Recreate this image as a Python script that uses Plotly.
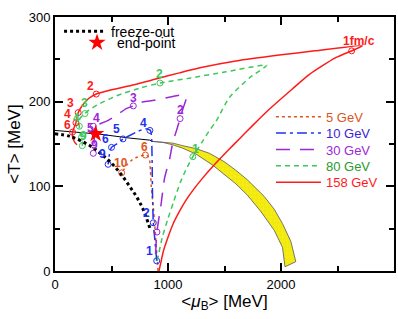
import plotly.graph_objects as go

# ---------------- data ----------------
fo_mu = [0, 133, 310, 400, 487, 575, 650, 720, 779, 841]
fo_T = [162, 159, 148, 139, 129, 116, 102, 88, 73, 50]

co_mu = [0, 200, 397, 661, 838, 867]
co_T = [166, 164, 161.6, 157, 154.6, 153]

band_mu = [867, 1043, 1131, 1249, 1367, 1499, 1600, 1700, 1852, 1940, 2013, 2087, 2131,
           2035, 2013, 1940, 1823, 1700, 1600, 1499, 1396, 1249, 1131, 1043, 950, 867]
band_T = [153, 151, 148, 144.5, 139, 129, 119, 108, 88, 73, 56, 35, 11,
          5, 28, 48, 70, 90, 103, 114, 125, 138, 145, 149, 152, 153]

ep_mu = [360]
ep_T = [162]

# 158 GeV
r_mu = [920, 940, 960, 1000, 1043, 1100, 1161, 1230, 1308, 1400, 1528, 1631, 1750, 1896, 2100,
        2249, 2484, 2720, 2300, 1984, 1600, 1283, 1100, 900, 700, 500, 365, 300, 245, 205, 185,
        165, 155, 158, 175, 195]
r_T = [0, 12, 24, 40, 55, 70, 84, 97, 110, 124, 142, 156, 172, 191, 215,
       232, 252, 266, 260, 255, 248, 240, 234, 227, 220, 214, 209, 204, 196, 187, 175,
       168, 164, 157, 152, 149]
r_mk_mu = [2625, 365, 205, 185, 155]
r_mk_T = [260, 209, 187, 175, 164]
r_lab = ["1fm/c", "2", "3", "4", "6"]
r_lab_mu = [2690, 310, 133, 112, 112]
r_lab_T = [272, 219, 198, 186, 173]

# 80 GeV
g_mu = [905, 950, 1000, 1050, 1110, 1160, 1220, 1300, 1367, 1426, 1543, 1720, 1873,
        1500, 1200, 929, 750, 546, 400, 300, 265, 225, 210, 215, 220, 235, 242, 242]
g_T = [12, 40, 62, 82, 105, 120, 135, 152, 166, 177, 205, 228, 243,
       235, 228, 222, 216, 207, 198, 190, 186, 181, 176, 171, 164, 158, 152, 148]
g_mk_mu = [1220, 929, 265, 215, 235, 242]
g_mk_T = [135, 222, 186, 171, 158, 148]
g_lab = ["1", "2", "3", "4", "9"]
g_lab_mu = [1240, 929, 265, 192, 250]
g_lab_T = [144, 233, 198, 181, 160]

# 30 GeV
p_mu = [890, 902, 940, 970, 1014, 1043, 1080, 1107, 1135, 1160, 1150, 1100, 1000, 850, 752,
        693, 634, 545, 457, 400, 339, 345, 348, 345, 339]
p_T = [20, 46, 80, 110, 132, 152, 168, 180, 193, 203, 207, 207.5, 205, 201, 199,
       195, 192, 184, 177, 174, 171, 165, 160, 150, 139]
p_mk_mu = [902, 1107, 693, 339, 348, 339]
p_mk_T = [46, 180, 195, 171, 163, 139]
p_lab = ["2", "3", "4", "5", "9"]
p_lab_mu = [1111, 693, 369, 310, 348]
p_lab_T = [190, 204, 181, 169, 149]

# 10 GeV
b_mu = [900, 885, 870, 863, 860, 855, 845, 800, 735, 661, 602, 545, 500, 482, 470]
b_T = [12, 35, 57, 90, 125, 155, 166, 168, 165, 160, 156, 150, 146, 138, 126]
b_mk_mu = [900, 870, 840, 602, 500, 470]
b_mk_T = [12, 57, 166, 156, 146, 126]
b_lab = ["1", "2", "4", "5", "6", "9"]
b_lab_mu = [838, 809, 779, 544, 450, 420]
b_lab_T = [24, 69, 175, 167.5, 156, 138]

# 5 GeV
o_mu = [912, 898, 885, 870, 852, 845, 838, 820, 800, 760, 720, 680, 640, 610, 590, 575]
o_T = [0, 25, 50, 75, 100, 118, 130, 136, 137, 136, 134, 131, 126, 120, 116, 112]
o_mk_mu = [800, 590]
o_mk_T = [137, 116]
o_lab = ["6", "10"]
o_lab_mu = [794, 588]
o_lab_T = [147, 127]

x_ticks = [0, 1000, 2000]
y_ticks = [0, 100, 200, 300]

# ---------------- styles ----------------
FONT = "Liberation Sans, Arial, Helvetica, sans-serif"
C_R = "#ff1a1a"
C_G = "#3cc85a"
C_P = "#9b27d8"
C_B = "#1e32f0"
C_O = "#e0561e"

fig = go.Figure()

# yellow band
fig.add_trace(go.Scatter(
    x=band_mu, y=band_T, mode="lines", fill="toself",
    fillcolor="#f6ee10",
    fillpattern=dict(shape="+", bgcolor="#f6ee10", fgcolor="#c9bf20", size=4, solidity=0.15),
    line=dict(color="#555555", width=0.8), showlegend=False, hoverinfo="skip"))

# crossover line
fig.add_trace(go.Scatter(x=co_mu, y=co_T, mode="lines", line=dict(color="black", width=1),
                         showlegend=False, hoverinfo="skip"))

# (name, x, y, marker x, marker y, line colour, text colour, line style, legend id, legend y)
series = [
    ("5 GeV", o_mu, o_T, o_mk_mu, o_mk_T, C_O, "#d9541e", dict(dash="dot", width=1.5), "legend3", 0.6075),
    ("10 GeV", b_mu, b_T, b_mk_mu, b_mk_T, C_B, "#3a1fd6", dict(dash="10px,4px,3px,4px", width=1.5), "legend4", 0.5429),
    ("30 GeV", p_mu, p_T, p_mk_mu, p_mk_T, C_P, "#9b27d8", dict(dash="14px,10px", width=1.5), "legend5", 0.4783),
    ("80 GeV", g_mu, g_T, g_mk_mu, g_mk_T, C_G, "#2a9a2a", dict(dash="5px,4px", width=1.5), "legend6", 0.4138),
    ("158 GeV", r_mu, r_T, r_mk_mu, r_mk_T, C_R, "#ff1a1a", dict(width=1.5), "legend7", 0.3492),
]
legend_layouts = {}
for name, xm, ym, mx, my, col, tcol, ln, lg, ly in series:
    fig.add_trace(go.Scatter(
        x=xm, y=ym, mode="lines", line=dict(color=col, shape="spline", smoothing=0.6, **ln),
        name=name, legend=lg))
    fig.add_trace(go.Scatter(
        x=mx, y=my, mode="markers",
        marker=dict(symbol="circle-open", size=6, color=col, line=dict(width=1, color=col)),
        showlegend=False, hoverinfo="skip"))
    legend_layouts[lg] = dict(x=0.637, y=ly, xanchor="left", yanchor="middle",
                              bgcolor="rgba(0,0,0,0)", itemwidth=45,
                              font=dict(size=13, family=FONT, color=tcol))

# freeze-out
fig.add_trace(go.Scatter(x=fo_mu, y=fo_T, mode="lines",
                         line=dict(color="black", dash="dot", width=3, shape="spline"),
                         name="freeze-out", legend="legend"))
# end point
fig.add_trace(go.Scatter(x=ep_mu, y=ep_T, mode="markers",
                         marker=dict(symbol="star", size=13, color="#ff0000", line=dict(width=0)),
                         name="end-point", legend="legend2"))

# labels
for labs, lx, ly, col in [(r_lab, r_lab_mu, r_lab_T, C_R), (g_lab, g_lab_mu, g_lab_T, C_G),
                          (p_lab, p_lab_mu, p_lab_T, C_P), (b_lab, b_lab_mu, b_lab_T, C_B),
                          (o_lab, o_lab_mu, o_lab_T, C_O)]:
    for t, x, y in zip(labs, lx, ly):
        fig.add_annotation(x=x, y=y, text="<b>%s</b>" % t, showarrow=False,
                           font=dict(color=col, size=12, family=FONT))

axis_common = dict(showline=True, linecolor="black", linewidth=2, mirror="allticks",
                   ticks="inside", ticklen=8, tickwidth=1.5, tickcolor="black",
                   showgrid=False, zeroline=False, automargin=False,
                   tickfont=dict(size=13, family=FONT, color="black"))

fig.update_layout(
    width=398, height=319,
    margin=dict(l=55, r=4, t=17, b=48),
    paper_bgcolor="white", plot_bgcolor="white",
    font=dict(family=FONT, color="black"),
    showlegend=True,
    xaxis=dict(range=[0, 3000], tickvals=x_ticks,
               minor=dict(dtick=500, ticks="inside", ticklen=5, tickwidth=1.5, tickcolor="black"),
               title=dict(text="&lt;<i>μ</i><sub>B</sub>&gt; [MeV]", font=dict(size=17), standoff=3),
               **axis_common),
    yaxis=dict(range=[0, 300], tickvals=y_ticks,
               minor=dict(dtick=50, ticks="inside", ticklen=5, tickwidth=1.5, tickcolor="black"),
               title=dict(text="&lt;T&gt; [MeV]", font=dict(size=17), standoff=4),
               **axis_common),
    legend=dict(x=0.012, y=0.942, xanchor="left", yanchor="middle", bgcolor="rgba(0,0,0,0)",
                font=dict(size=14, family=FONT), itemwidth=42),
    legend2=dict(x=0.065, y=0.8976, xanchor="left", yanchor="middle", bgcolor="rgba(0,0,0,0)",
                 font=dict(size=14, family=FONT), itemwidth=30),
    **legend_layouts,
)

fig.write_html("out.html", config={"displayModeBar": False},
               post_script="document.body.style.margin='0';")
